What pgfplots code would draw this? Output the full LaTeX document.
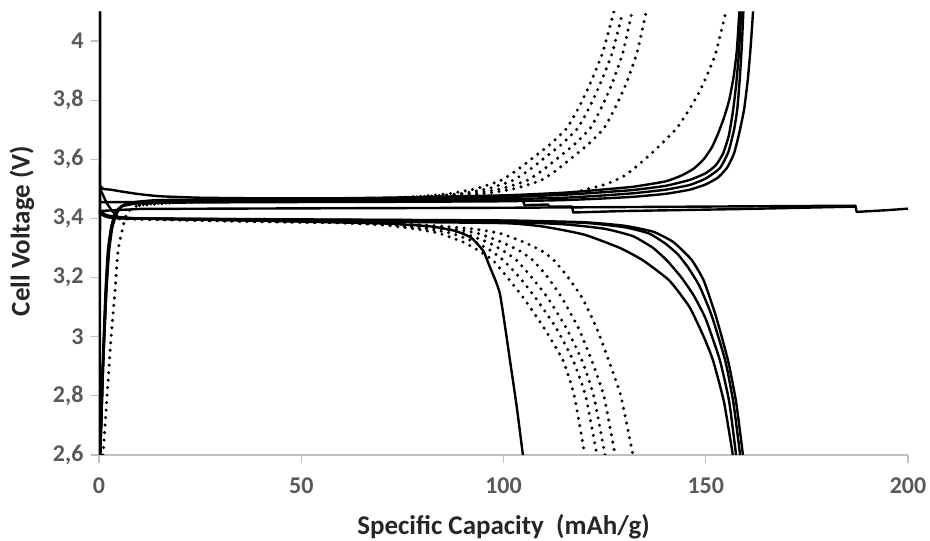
\documentclass[border=0pt]{standalone}
\usepackage{pgfplots}
\pgfplotsset{compat=1.18}
\usepackage{fontspec}
\setmainfont{Carlito}

\definecolor{axgray}{RGB}{191,191,191}
\definecolor{tickgray}{RGB}{89,89,89}

\pgfplotsset{
  cyc/.style={black, line width=2.4pt, line join=round, smooth, tension=0.3},
  dot/.style={black, line width=3.4pt, line cap=round, dash pattern=on 0pt off 7.5pt, smooth, tension=0.3},
}

\begin{document}
\begin{tikzpicture}
\useasboundingbox (-99pt,-86pt) rectangle (831pt,455pt);
\begin{axis}[
  scale only axis,
  width=809pt, height=443.6pt,
  xmin=0, xmax=200,
  ymin=2.6, ymax=4.1,
  axis x line=bottom, axis y line=left,
  axis line style={draw=axgray, line width=1.2pt, -},
  tick align=outside,
  major tick length=8pt,
  tick style={draw=axgray, line width=1.2pt},
  xtick={0,50,100,150,200},
  ytick={2.6,2.8,3,3.2,3.4,3.6,3.8,4},
  /pgf/number format/use comma,
  /pgf/number format/assume math mode=true,
  ticklabel style={font=\fontsize{24}{28}\selectfont\bfseries, text=tickgray},
  xticklabel style={yshift=-11pt},
  yticklabel style={xshift=-4pt},
  label style={font=\fontsize{27}{32}\selectfont\bfseries, text=black!85},
  xlabel={Specific Capacity\ \ (mAh/g)},
  ylabel={Cell Voltage (V)},
  xlabel style={at={(axis description cs:0.5,-0.1623)}, anchor=center},
  ylabel style={at={(axis description cs:-0.0952,0.505)}, anchor=center},
]

% first cycle spike at zero capacity
\addplot[cyc, sharp plot] coordinates {(0.2,2.6)(0.25,3.3)(0.3,3.6)(0.3,4.1)};
\addplot[cyc] coordinates {(0.3,3.51)(1,3.50)(3,3.497)(6,3.49)(10,3.482)(15,3.475)(25,3.47)(40,3.468)(70,3.468)};

% rest / hold lines around 3.43 V
\addplot[cyc, sharp plot] coordinates {(0,3.425)(10,3.432)(50,3.434)(100,3.436)(150,3.44)(187,3.443)(187.3,3.422)(195,3.428)(200,3.433)};
\addplot[cyc, sharp plot] coordinates {(0,3.455)(50,3.458)(104.8,3.46)(105.2,3.445)(111,3.447)(111.3,3.44)(117,3.44)(117.2,3.42)(130,3.425)(160,3.432)(187,3.44)};

% charge, solid
\addplot[cyc] coordinates {(0.3,2.6)(1,2.9)(1.8,3.15)(2.5,3.29)(3.3,3.37)(4.5,3.42)(6,3.445)(9,3.455)(15,3.462)(40,3.465)(70,3.47)
  (100,3.478)(115,3.487)(124,3.497)(132,3.507)(140,3.525)(144,3.545)(147,3.568)(149.5,3.60)(151.5,3.64)(153,3.685)(154.5,3.74)(155.8,3.80)(156.9,3.88)(157.7,3.97)(158.3,4.1)};
\addplot[cyc] coordinates {(0.3,2.6)(1,2.9)(1.8,3.15)(2.4,3.29)(3.2,3.37)(4.3,3.42)(6,3.445)(9,3.455)(15,3.46)(40,3.463)(70,3.466)
  (100,3.472)(115,3.48)(124,3.488)(132,3.496)(140,3.51)(146,3.53)(150,3.553)(152.5,3.58)(154.3,3.62)(155.7,3.68)(156.7,3.76)(157.5,3.85)(158.2,3.96)(158.8,4.1)};
\addplot[cyc] coordinates {(0.3,2.6)(1,2.9)(1.7,3.15)(2.3,3.29)(3.1,3.37)(4.2,3.42)(5.8,3.443)(9,3.452)(15,3.456)(40,3.459)(70,3.461)
  (100,3.465)(115,3.47)(124,3.477)(132,3.485)(140,3.497)(146,3.513)(150,3.535)(153.5,3.57)(155.6,3.625)(157,3.70)(157.8,3.77)(158.4,3.87)(158.9,3.98)(159.3,4.1)};
\addplot[cyc] coordinates {(0.3,2.6)(0.9,2.9)(1.6,3.15)(2.2,3.29)(3,3.37)(4,3.42)(5.5,3.44)(9,3.45)(15,3.453)(40,3.455)(70,3.456)
  (100,3.458)(115,3.462)(124,3.467)(132,3.473)(140,3.483)(146,3.497)(150,3.515)(153,3.538)(155.3,3.572)(157,3.62)(158.3,3.69)(159.5,3.77)(160.4,3.87)(161.1,3.98)(161.7,4.1)};

% charge, dotted
\addplot[dot] coordinates {(1,2.6)(2,2.8)(3,3.0)(4,3.16)(4.7,3.29)(5.9,3.37)(7,3.42)(10,3.445)(20,3.455)(40,3.46)(70,3.468)
  (80,3.475)(86.8,3.484)(93,3.50)(99.1,3.527)(103,3.56)(107.3,3.605)(111.5,3.65)(115.7,3.706)(118.8,3.78)(121.4,3.855)(124.5,3.96)(127.3,4.1)};
\addplot[dot] coordinates {(10,3.445)(20,3.455)(40,3.46)(70,3.466)
  (82,3.475)(89.5,3.484)(96,3.50)(102.1,3.527)(106,3.56)(110.2,3.605)(114.3,3.65)(118.4,3.706)(121.4,3.78)(123.9,3.855)(126.9,3.96)(129.5,4.1)};
\addplot[dot] coordinates {(10,3.445)(20,3.455)(40,3.46)(70,3.465)
  (84,3.475)(92.5,3.484)(99.3,3.50)(105.6,3.527)(109.4,3.56)(113.5,3.605)(117.5,3.65)(121.5,3.706)(124.4,3.78)(126.8,3.855)(129.5,3.96)(131.8,4.1)};
\addplot[dot] coordinates {(10,3.445)(20,3.455)(40,3.46)(70,3.464)
  (86,3.475)(95.5,3.484)(102.5,3.50)(109,3.527)(112.8,3.56)(116.9,3.605)(120.9,3.65)(124.9,3.706)(127.8,3.78)(130.3,3.855)(133,3.96)(135.3,4.1)};
\addplot[dot] coordinates {(10,3.445)(20,3.455)(40,3.46)(70,3.464)
  (100,3.472)(110,3.48)(117.2,3.487)(121,3.50)(125.6,3.517)(130,3.545)(133.7,3.585)(137,3.625)(140,3.665)(142.9,3.706)(146,3.77)(148.5,3.83)(150.5,3.89)(152.5,3.96)(155,4.1)};

% discharge, solid
\addplot[cyc] coordinates {(0,3.43)(2,3.41)(10,3.40)(40,3.392)(70,3.383)(82,3.373)(88,3.358)(92,3.335)(95,3.29)(96.5,3.24)(99.1,3.146)(101.6,2.92)(103.3,2.76)(104.8,2.6)};
\addplot[cyc] coordinates {(0.3,3.50)(2,3.45)(4,3.415)(8,3.40)(60,3.39)(100,3.384)(110,3.372)(120,3.345)(128.8,3.30)(134.5,3.258)(141,3.19)(146,3.10)(149.5,3.00)(151.8,2.92)(154.5,2.78)(156.7,2.6)};
\addplot[cyc] coordinates {(0,3.43)(2,3.41)(8,3.40)(60,3.392)(100,3.388)(115,3.38)(125,3.365)(132,3.34)(137,3.30)(140.6,3.255)(144,3.20)(147,3.14)(150,3.06)(153.5,2.92)(155.8,2.78)(157.5,2.6)};
\addplot[cyc] coordinates {(0,3.42)(2,3.405)(8,3.40)(60,3.395)(100,3.392)(120,3.385)(130,3.37)(136,3.349)(140,3.315)(143,3.28)(145.6,3.235)(148.5,3.17)(151.5,3.07)(154.8,2.92)(156.8,2.78)(158.5,2.6)};
\addplot[cyc] coordinates {(0,3.42)(2,3.405)(8,3.40)(60,3.396)(100,3.393)(120,3.387)(130,3.375)(137,3.355)(142,3.32)(146.5,3.26)(149.5,3.19)(152.5,3.07)(155.5,2.92)(157.5,2.78)(159.2,2.6)};

% discharge, dotted
\addplot[dot] coordinates {(0,3.42)(5,3.40)(40,3.39)(60,3.385)(70,3.378)(78,3.365)(84,3.35)(90,3.32)(94,3.29)(97.4,3.258)(101,3.20)(105,3.13)(110,3.03)(114.7,2.92)(117.5,2.80)(120.1,2.6)};
\addplot[dot] coordinates {(5,3.40)(40,3.39)(60,3.386)(72,3.378)(81,3.365)(87,3.35)(93,3.32)(97,3.29)(100,3.258)(104,3.20)(108,3.13)(113,3.03)(117.2,2.92)(120.3,2.80)(123.1,2.6)};
\addplot[dot] coordinates {(5,3.40)(40,3.39)(60,3.386)(74,3.378)(84,3.365)(90,3.35)(96,3.32)(100,3.29)(103.3,3.258)(107,3.20)(111,3.13)(115.5,3.03)(119.4,2.92)(122.3,2.80)(125.1,2.6)};
\addplot[dot] coordinates {(5,3.40)(40,3.39)(60,3.387)(76,3.378)(87,3.365)(93.5,3.35)(99.5,3.32)(104,3.29)(107.3,3.258)(111,3.20)(114.5,3.13)(118.5,3.03)(121.8,2.92)(124.8,2.80)(127.6,2.6)};
\addplot[dot] coordinates {(5,3.40)(40,3.39)(60,3.387)(80,3.378)(92,3.365)(99,3.35)(105,3.32)(109.5,3.29)(112.5,3.258)(116,3.20)(119.5,3.13)(123,3.03)(126,2.92)(129,2.80)(132,2.6)};

\end{axis}
\end{tikzpicture}
\end{document}
